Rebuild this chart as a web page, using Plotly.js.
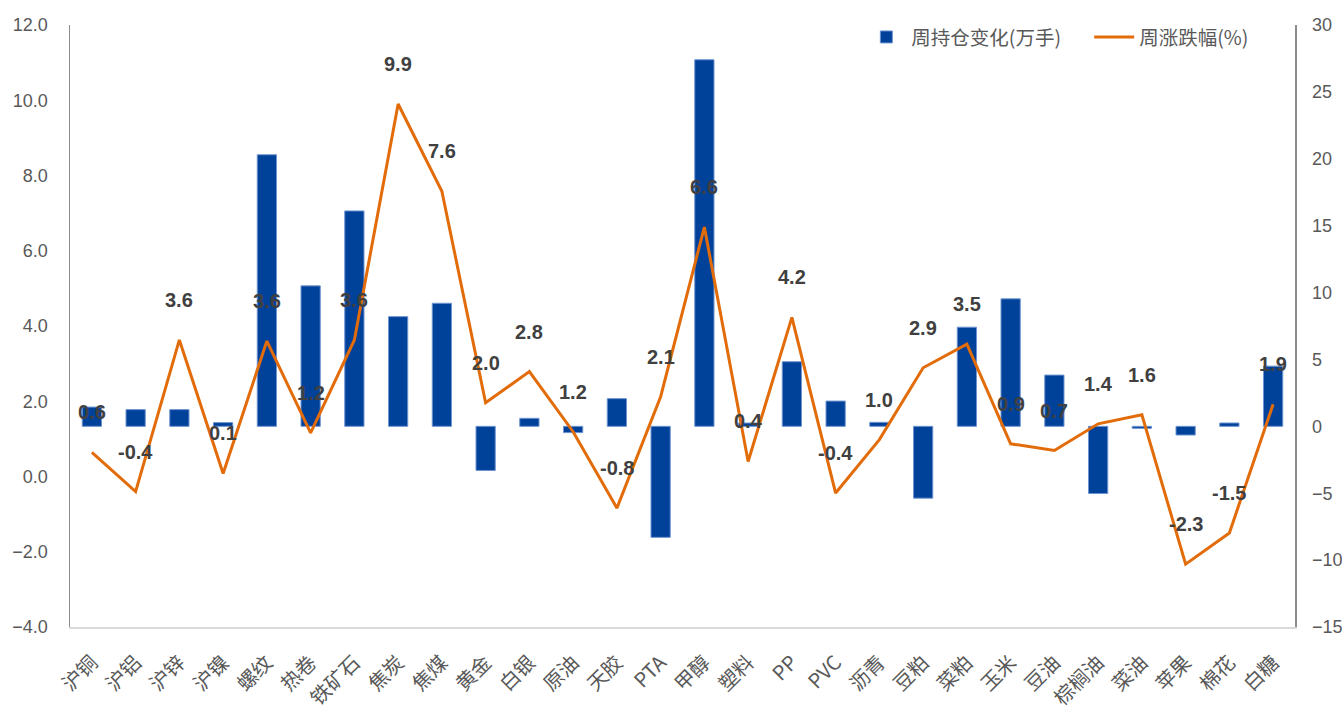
<!DOCTYPE html>
<html>
<head>
<meta charset="utf-8">
<script src="https://cdn.plot.ly/plotly-3.0.1.min.js"></script>
<style>html,body{margin:0;padding:0;background:#fff;}#chart{width:1342px;height:721px;}</style>
</head>
<body>
<div id="chart"></div>
<script>
const categories = ["沪铜","沪铝","沪锌","沪镍","螺纹","热卷","铁矿石","焦炭","焦煤","黄金","白银","原油","天胶","PTA","甲醇","塑料","PP","PVC","沥青","豆粕","菜粕","玉米","豆油","棕榈油","菜油","苹果","棉花","白糖"];
const positionChange = [1.44,1.25,1.25,0.28,20.3,10.5,16.1,8.2,9.2,-3.3,0.6,-0.47,2.07,-8.3,27.4,0.25,4.83,1.89,0.3,-5.37,7.41,9.53,3.83,-5.02,-0.15,-0.65,0.25,4.5];
const weeklyReturn = [0.64,-0.40,3.63,0.08,3.60,1.16,3.63,9.90,7.58,1.96,2.79,1.19,-0.84,2.12,6.63,0.40,4.23,-0.44,0.98,2.89,3.52,0.87,0.69,1.40,1.64,-2.33,-1.50,1.92];
const seriesNames = ["周持仓变化(万手)","周涨跌幅(%)"];

const numFont = "Liberation Sans, Arial, sans-serif";
const cjk = "Noto Sans CJK SC, sans-serif";

const traces = [
  {
    type: "bar", name: seriesNames[0], x: categories, y: positionChange,
    yaxis: "y", legend: "legend", marker: {color: "#00419A", line: {color: "#6F94D0", width: 1}},
    width: 0.44, hoverinfo: "x+y"
  },
  {
    type: "scatter", mode: "lines", name: seriesNames[1], x: categories, y: weeklyReturn,
    yaxis: "y2", legend: "legend2", line: {color: "#E36C0A", width: 3}, hoverinfo: "x+y"
  }
];

const annotations = categories.map((c, i) => ({
  x: c, y: weeklyReturn[i], xref: "x", yref: "y2",
  text: weeklyReturn[i].toFixed(1), showarrow: false,
  yshift: 40, yanchor: "middle", xanchor: "center",
  font: {family: numFont, size: 20, color: "#404040", weight: "bold"}
}));

const legendBase = {
  orientation: "h", xanchor: "left", y: 1.012, yanchor: "top",
  font: {family: cjk, size: 19.5, color: "#595959"}, itemwidth: 40,
  bgcolor: "rgba(0,0,0,0)"
};

const layout = {
  width: 1342, height: 721,
  margin: {l: 70, r: 47, t: 25, b: 94},
  paper_bgcolor: "#fff", plot_bgcolor: "#fff",
  showlegend: true,
  legend: Object.assign({}, legendBase, {x: 0.646}),
  legend2: Object.assign({}, legendBase, {x: 0.832}),
  xaxis: {
    type: "category", showgrid: false, zeroline: false,
    showline: true, linecolor: "#D9D9D9", linewidth: 2,
    ticks: "", tickangle: -45, ticklabelstandoff: 14,
    tickfont: {family: cjk, size: 20, color: "#595959"}
  },
  yaxis: {
    side: "right", range: [-15, 30], dtick: 5, tick0: 0,
    showgrid: false, zeroline: false, showline: true, linecolor: "#8C8C8C", linewidth: 1.5,
    ticks: "", ticklabelstandoff: 12,
    tickfont: {family: numFont, size: 18, color: "#595959"}
  },
  yaxis2: {
    overlaying: "y", side: "left", range: [-4, 12], dtick: 2, tick0: 0, tickformat: ".1f",
    showgrid: false, zeroline: false, showline: true, linecolor: "#8C8C8C", linewidth: 1.5,
    ticks: "", ticklabelstandoff: 17,
    tickfont: {family: numFont, size: 18, color: "#595959"}
  },
  annotations: annotations
};

Plotly.newPlot("chart", traces, layout, {displayModeBar: false, staticPlot: true});
</script>
</body>
</html>
